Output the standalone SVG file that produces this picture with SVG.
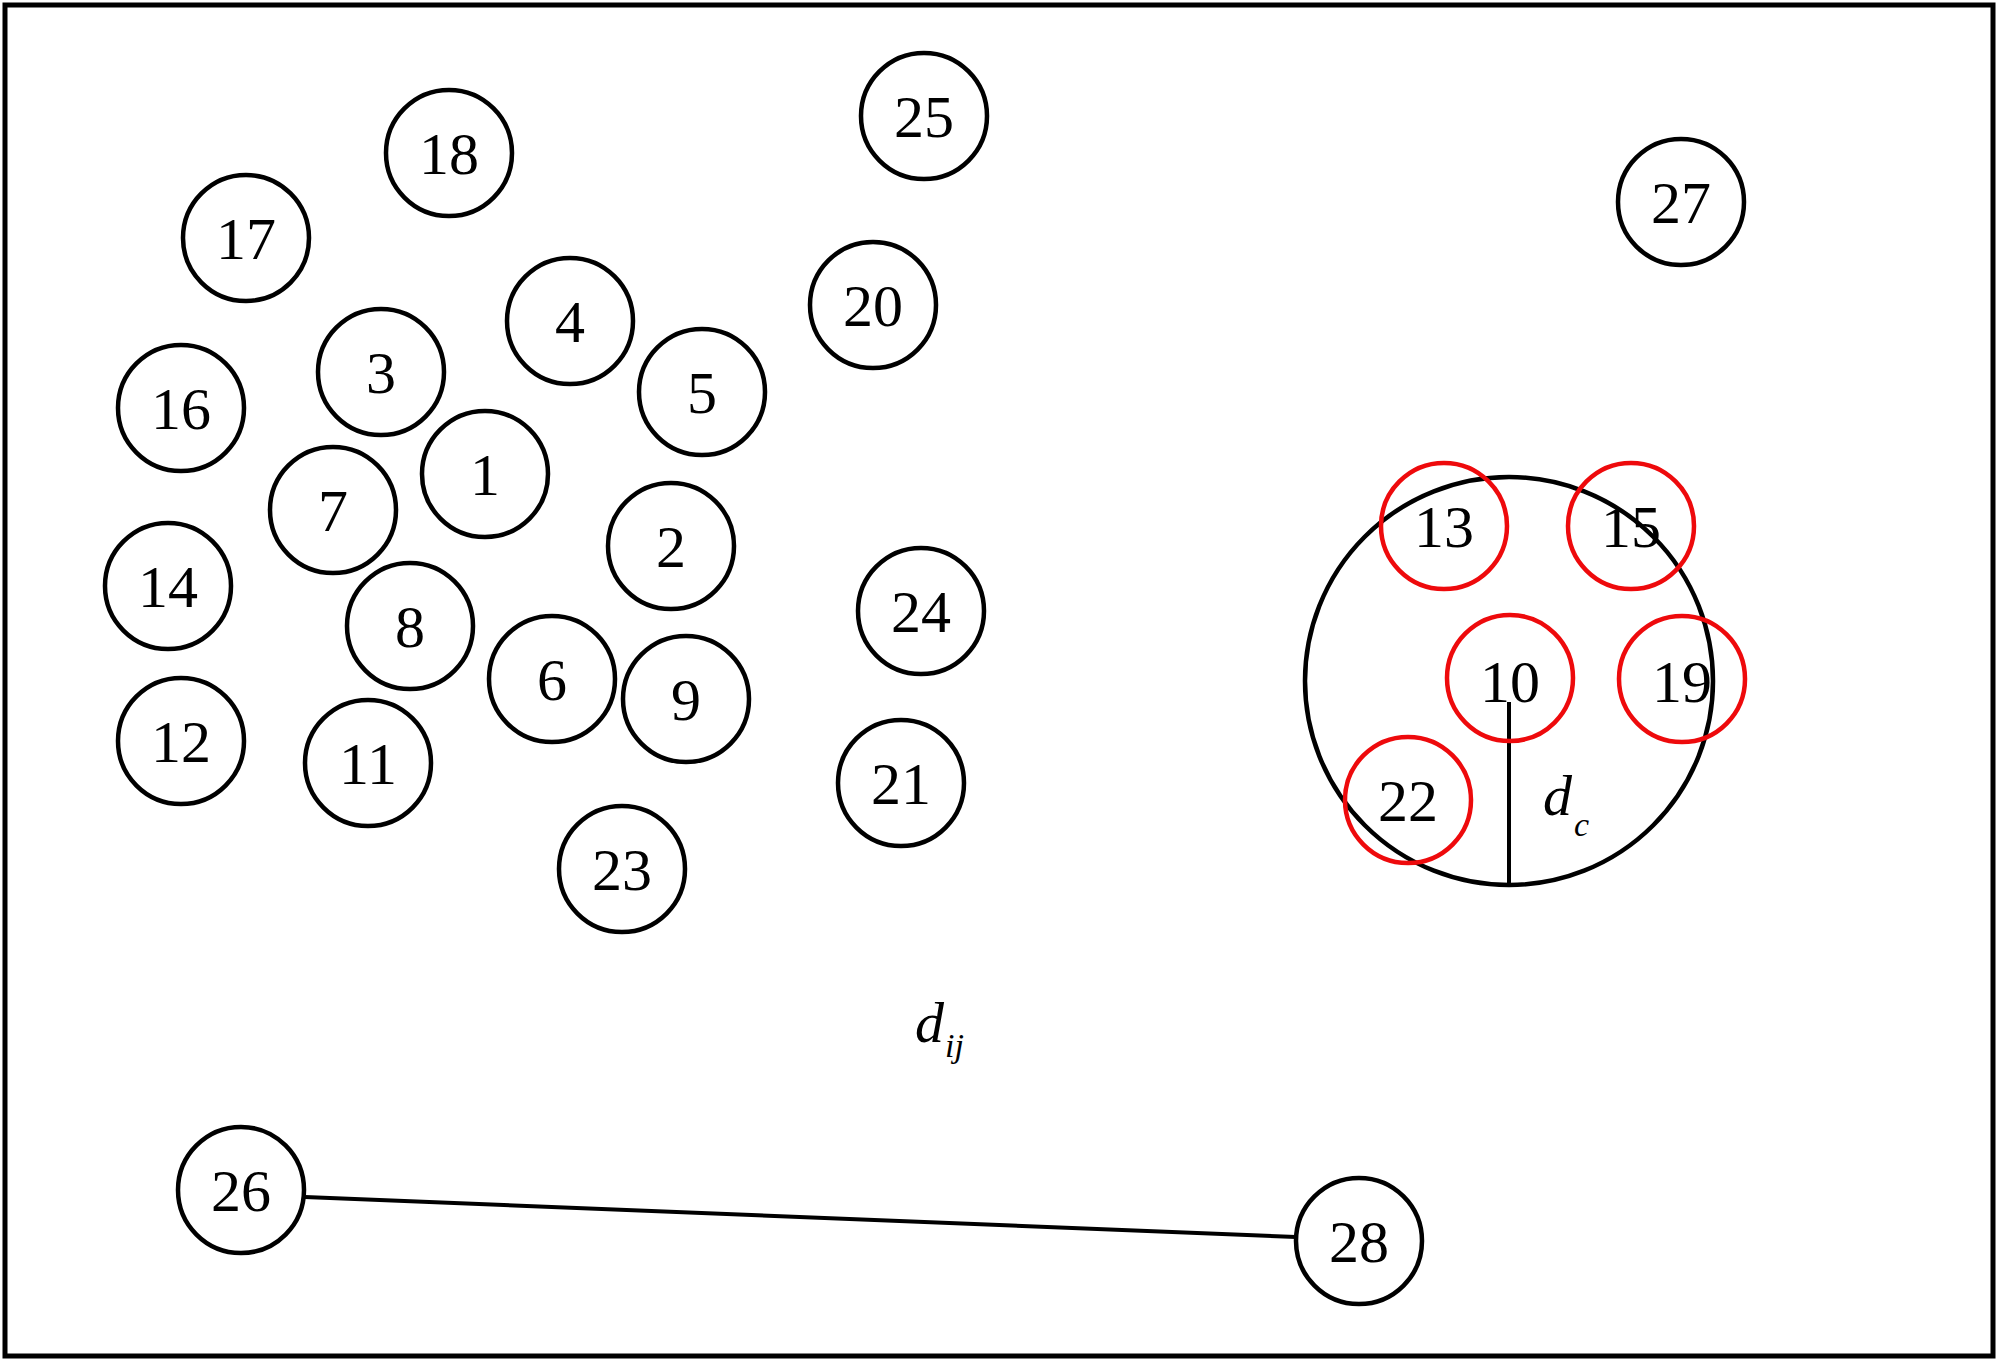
<svg xmlns="http://www.w3.org/2000/svg" width="2000" height="1361" viewBox="0 0 2000 1361">
<style>
.n{fill:#fff;stroke:#000;stroke-width:4.5}
.r{fill:none;stroke:#ee0a0c;stroke-width:4.5}
.t{font-family:"Liberation Serif","Times New Roman",serif;font-size:60px;text-anchor:middle;fill:#000}
.m{font-family:"Liberation Serif","Times New Roman",serif;font-style:italic;fill:#000}
</style>
<rect x="0" y="0" width="2000" height="1361" fill="#fff"/>
<rect x="5" y="5" width="1988" height="1351" fill="none" stroke="#000" stroke-width="5"/>
<g id="connectors">
<line x1="305" y1="1197" x2="1296" y2="1237" stroke="#000" stroke-width="4"/>
<circle cx="1509" cy="681" r="204" fill="none" stroke="#000" stroke-width="4.5"/>
<line x1="1509" y1="702" x2="1509" y2="885" stroke="#000" stroke-width="4"/>
</g>
<g id="node1"><circle class="n" cx="485" cy="474" r="63"/><text class="t" x="485" y="495">1</text></g>
<g id="node2"><circle class="n" cx="671" cy="546" r="63"/><text class="t" x="671" y="567">2</text></g>
<g id="node3"><circle class="n" cx="381" cy="372" r="63"/><text class="t" x="381" y="393">3</text></g>
<g id="node4"><circle class="n" cx="570" cy="321" r="63"/><text class="t" x="570" y="342">4</text></g>
<g id="node5"><circle class="n" cx="702" cy="392" r="63"/><text class="t" x="702" y="413">5</text></g>
<g id="node6"><circle class="n" cx="552" cy="679" r="63"/><text class="t" x="552" y="700">6</text></g>
<g id="node7"><circle class="n" cx="333" cy="510" r="63"/><text class="t" x="333" y="531">7</text></g>
<g id="node8"><circle class="n" cx="410" cy="626" r="63"/><text class="t" x="410" y="647">8</text></g>
<g id="node9"><circle class="n" cx="686" cy="699" r="63"/><text class="t" x="686" y="720">9</text></g>
<g id="node11"><circle class="n" cx="368" cy="763" r="63"/><text class="t" x="368" y="784">11</text></g>
<g id="node12"><circle class="n" cx="181" cy="741" r="63"/><text class="t" x="181" y="762">12</text></g>
<g id="node14"><circle class="n" cx="168" cy="586" r="63"/><text class="t" x="168" y="607">14</text></g>
<g id="node16"><circle class="n" cx="181" cy="408" r="63"/><text class="t" x="181" y="429">16</text></g>
<g id="node17"><circle class="n" cx="246" cy="238" r="63"/><text class="t" x="246" y="259">17</text></g>
<g id="node18"><circle class="n" cx="449" cy="153" r="63"/><text class="t" x="449" y="174">18</text></g>
<g id="node20"><circle class="n" cx="873" cy="305" r="63"/><text class="t" x="873" y="326">20</text></g>
<g id="node21"><circle class="n" cx="901" cy="783" r="63"/><text class="t" x="901" y="804">21</text></g>
<g id="node23"><circle class="n" cx="622" cy="869" r="63"/><text class="t" x="622" y="890">23</text></g>
<g id="node24"><circle class="n" cx="921" cy="611" r="63"/><text class="t" x="921" y="632">24</text></g>
<g id="node25"><circle class="n" cx="924" cy="116" r="63"/><text class="t" x="924" y="137">25</text></g>
<g id="node27"><circle class="n" cx="1681" cy="202" r="63"/><text class="t" x="1681" y="223">27</text></g>
<g id="node26"><circle class="n" cx="241" cy="1190" r="63"/><text class="t" x="241" y="1211">26</text></g>
<g id="node28"><circle class="n" cx="1359" cy="1241" r="63"/><text class="t" x="1359" y="1262">28</text></g>
<g id="node13"><circle class="r" cx="1444" cy="526" r="63"/><text class="t" x="1444" y="547">13</text></g>
<g id="node15"><circle class="r" cx="1631" cy="526" r="63"/><text class="t" x="1631" y="547">15</text></g>
<g id="node10"><circle class="r" cx="1510" cy="678" r="63"/><text class="t" x="1510" y="702">10</text></g>
<g id="node19"><circle class="r" cx="1682" cy="679" r="63"/><text class="t" x="1682" y="702">19</text></g>
<g id="node22"><circle class="r" cx="1408" cy="800" r="63"/><text class="t" x="1408" y="821">22</text></g>
<g id="label-dc"><text class="m" x="1543" y="815" font-size="58">d</text><text class="m" x="1574" y="836" font-size="34">c</text></g>
<g id="label-dij"><text class="m" x="915" y="1042" font-size="58">d</text><text class="m" x="945" y="1057" font-size="34">ij</text></g>
</svg>
